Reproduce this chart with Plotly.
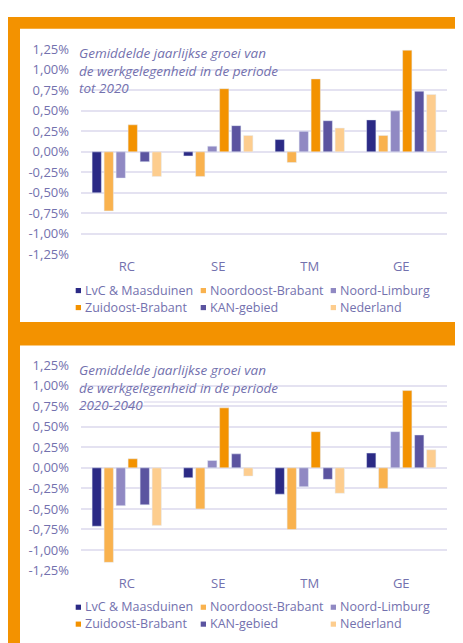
import plotly.graph_objects as go

# ---------------- data ----------------
CATEGORIES = ["RC", "SE", "TM", "GE"]
SERIES = ["LvC & Maasduinen", "Noordoost-Brabant", "Noord-Limburg",
          "Zuidoost-Brabant", "KAN-gebied", "Nederland"]
COLORS = ["#2B2A85", "#F9B24E", "#9089C3", "#F39200", "#5B54A0", "#FDCD8E"]

# panel 1: growth until 2020 (% per year)
LVC_1 = [-0.50, -0.05, 0.15, 0.39]
NOB_1 = [-0.72, -0.30, -0.13, 0.20]
NL_1 = [-0.32, 0.07, 0.25, 0.50]
ZOB_1 = [0.33, 0.77, 0.89, 1.24]
KAN_1 = [-0.12, 0.32, 0.38, 0.74]
NED_1 = [-0.30, 0.20, 0.29, 0.70]

# panel 2: growth 2020-2040 (% per year)
LVC_2 = [-0.71, -0.12, -0.32, 0.18]
NOB_2 = [-1.15, -0.50, -0.75, -0.25]
NL_2 = [-0.46, 0.09, -0.23, 0.44]
ZOB_2 = [0.11, 0.73, 0.44, 0.94]
KAN_2 = [-0.45, 0.17, -0.14, 0.40]
NED_2 = [-0.70, -0.10, -0.31, 0.22]

TICK_VALUES = [1.25, 1.00, 0.75, 0.50, 0.25, 0.00, -0.25, -0.50, -0.75, -1.00, -1.25]
TICK_LABELS = ["1,25%", "1,00%", "0,75%", "0,50%", "0,25%", "0,00%",
               "-0,25%", "-0,50%", "-0,75%", "-1,00%", "-1,25%"]

TITLE_1 = ["Gemiddelde jaarlijkse groei van", "de werkgelegenheid in de periode", "tot 2020"]
TITLE_2 = ["Gemiddelde jaarlijkse groei van", "de werkgelegenheid in de periode", "2020-2040"]

PANEL_1 = [LVC_1, NOB_1, NL_1, ZOB_1, KAN_1, NED_1]
PANEL_2 = [LVC_2, NOB_2, NL_2, ZOB_2, KAN_2, NED_2]

# ---------------- layout helpers ----------------
# the page has an 8px body margin, so the figure covers page pixels 8..463 / 8..643
OFF = 8
W, H = 463 - OFF, 643 - OFF
FONT = "Open Sans, sans-serif"
TXT = "#7371AE"
GRID = "#E4E2F1"
ORANGE = "#F39200"


def fx(p):
    """page x pixel -> paper fraction"""
    return (p - OFF) / W


def fy(p):
    """page y pixel -> paper fraction"""
    return 1 - (p - OFF) / H


fig = go.Figure()

for i, name in enumerate(SERIES):
    fig.add_trace(go.Bar(x=CATEGORIES, y=PANEL_1[i], name=name, marker_color=COLORS[i],
                         xaxis="x", yaxis="y", showlegend=False))
for i, name in enumerate(SERIES):
    fig.add_trace(go.Bar(x=CATEGORIES, y=PANEL_2[i], name=name, marker_color=COLORS[i],
                         xaxis="x2", yaxis="y2", showlegend=False))

shapes = [
    dict(type="rect", xref="paper", yref="paper", x0=fx(8), x1=fx(470), y0=fy(8), y1=fy(660),
         fillcolor=ORANGE, line_width=0, layer="below"),
    dict(type="rect", xref="paper", yref="paper", x0=fx(20), x1=fx(459), y0=fy(20), y1=fy(322),
         fillcolor="white", line_width=0, layer="below"),
    dict(type="rect", xref="paper", yref="paper", x0=fx(20), x1=fx(459), y0=fy(346), y1=fy(660),
         fillcolor="white", line_width=0, layer="below"),
    # bottom panel: top gridline absent in the original
    dict(type="line", xref="paper", yref="y2", x0=fx(79), x1=fx(449), y0=1.25, y1=1.25,
         line=dict(color="white", width=3), layer="between"),
    # faint extra line in the original bottom panel
    dict(type="line", xref="paper", yref="y2", x0=fx(81), x1=fx(447), y0=0.80, y1=0.80,
         line=dict(color=GRID, width=1.5), layer="below"),
]

# white backing behind each title line (hides the gridlines under the text)
title_blocks = [
    (TITLE_1, 62.7, [(37, 54, 267), (54, 71, 281), (71, 88, 133)]),
    (TITLE_2, 389.0, [(363, 380, 267), (380, 397, 281), (397, 414, 144)]),
]
annotations = []
for lines, yc, boxes in title_blocks:
    for y0, y1, xr in boxes:
        shapes.append(dict(type="rect", xref="paper", yref="paper", x0=fx(76), x1=fx(xr),
                           y0=fy(y1), y1=fy(y0), fillcolor="white", line_width=0,
                           layer="between"))
    annotations.append(dict(text="<br>".join(lines), xref="paper", yref="paper",
                            x=fx(77.5), y=fy(yc), xanchor="left", yanchor="middle",
                            align="left", showarrow=False, borderpad=0,
                            font=dict(family=FONT, size=13.5, color=TXT, style="italic")))

legend_cols = [84, 209, 339]
legend_rows = [[289.3, 306.8], [615.2, 632.6]]
for rows in legend_rows:
    for i, name in enumerate(SERIES):
        tx = legend_cols[i % 3]
        ty = rows[i // 3]
        annotations.append(dict(text=name.replace("&", "&amp;"), xref="paper", yref="paper",
                                x=fx(tx - 1), y=fy(ty), xanchor="left", yanchor="middle",
                                showarrow=False,
                                font=dict(family=FONT, size=12.5, color=TXT)))
        shapes.append(dict(type="rect", xref="paper", yref="paper",
                           x0=fx(tx - 8.3), x1=fx(tx - 3), y0=fy(ty - 2.4), y1=fy(ty + 2.9),
                           fillcolor=COLORS[i], line_width=0, layer="above"))

yaxis_common = dict(range=[-1.25, 1.25], tickvals=TICK_VALUES, ticktext=TICK_LABELS,
                    showgrid=True, gridcolor=GRID, gridwidth=1.5, zeroline=False,
                    showline=False, ticks="", ticklabelstandoff=11,
                    tickfont=dict(family=FONT, size=13, color=TXT), fixedrange=True)
xaxis_common = dict(showgrid=False, showline=False, ticks="", zeroline=False,
                    tickfont=dict(family=FONT, size=13, color=TXT),
                    ticklabelstandoff=3, domain=[fx(81), fx(447)],
                    categoryorder="array", categoryarray=CATEGORIES)

fig.update_layout(
    width=W, height=H,
    margin=dict(l=0, r=0, t=0, b=0),
    paper_bgcolor="white",
    plot_bgcolor="rgba(0,0,0,0)",
    barmode="group", bargap=0.213, bargroupgap=0.225,
    showlegend=False,
    xaxis=dict(anchor="y", **xaxis_common),
    yaxis=dict(anchor="x", domain=[fy(252.3), fy(41.3)], **yaxis_common),
    xaxis2=dict(anchor="y2", **xaxis_common),
    yaxis2=dict(anchor="x2", domain=[fy(577.75), fy(366.25)], **yaxis_common),
    shapes=shapes,
    annotations=annotations,
    font=dict(family=FONT, color=TXT),
)

fig.write_html("out.html")
